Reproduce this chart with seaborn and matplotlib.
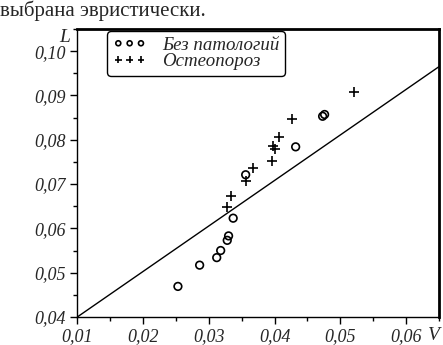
# Scatter of L vs V for two patient groups with a heuristic separating line
import matplotlib
matplotlib.use('Agg')
import matplotlib.pyplot as plt
import seaborn as sns
from matplotlib.ticker import MultipleLocator, FuncFormatter

# Data
normal_v = [0.0253, 0.0286, 0.0312, 0.0318, 0.0328, 0.0330, 0.0337, 0.0356, 0.0432, 0.0473, 0.0476]
normal_l = [0.0469, 0.0517, 0.0534, 0.0550, 0.0573, 0.0583, 0.0623, 0.0721, 0.0784, 0.0853, 0.0857]

osteo_v = [0.0328, 0.0334, 0.0356, 0.0367, 0.0396, 0.0398, 0.0401, 0.0406, 0.0427, 0.0521]
osteo_l = [0.0648, 0.0674, 0.0708, 0.0736, 0.0751, 0.0785, 0.0780, 0.0807, 0.0846, 0.0907]

line_v = [0.01, 0.065]
line_l = [0.04, 0.0965]

labels = ['Без патологий', 'Остеопороз']
x_ticks = [0.01, 0.02, 0.03, 0.04, 0.05, 0.06]
y_ticks = [0.04, 0.05, 0.06, 0.07, 0.08, 0.09, 0.10]

sns.set_style('ticks')
plt.rcParams['font.family'] = ['Liberation Serif', 'DejaVu Serif']

fig = plt.figure(figsize=(4.43, 3.45), dpi=100)
ax = fig.add_axes([0.1745, 0.0812, 0.8165, 0.8348])

# separating line
sns.lineplot(x=line_v, y=line_l, ax=ax, color='black', linewidth=1.0)

# groups
sns.scatterplot(x=normal_v, y=normal_l, ax=ax, marker='o', s=30,
                facecolors='none', edgecolor='black', linewidth=1.2, label=labels[0])
sns.scatterplot(x=osteo_v, y=osteo_l, ax=ax, marker='+', s=55,
                color='black', linewidth=1.2, label=labels[1])

ax.set_xlim(0.01, 0.065)
ax.set_ylim(0.04, 0.105)
ax.set_xticks(x_ticks)
ax.set_yticks(y_ticks)
ax.xaxis.set_minor_locator(MultipleLocator(0.005))
ax.yaxis.set_minor_locator(MultipleLocator(0.005))
fmt = FuncFormatter(lambda v, p: f"{v:.2f}".replace('.', ','))
ax.xaxis.set_major_formatter(fmt)
ax.yaxis.set_major_formatter(fmt)

ax.tick_params(which='major', direction='out', length=5, width=1, labelsize=13, pad=3, color='black')
ax.tick_params(which='minor', direction='out', length=3, width=1, color='black')
for lab in ax.get_xticklabels() + ax.get_yticklabels():
    lab.set_fontstyle('italic')

for side in ['left', 'bottom']:
    ax.spines[side].set_linewidth(1.0)
    ax.spines[side].set_color('black')
for side in ['right', 'top']:
    ax.spines[side].set_visible(True)
    ax.spines[side].set_linewidth(2.0)
    ax.spines[side].set_color('black')

ax.set_xlabel('')
ax.set_ylabel('')

# axis names
fig.text(65 / 443, 1 - 37 / 345, 'L', fontsize=14, fontstyle='italic', ha='center', va='center')
fig.text(434 / 443, 1 - 336 / 345, 'V', fontsize=14, fontstyle='italic', ha='center', va='center')

# preceding text line
fig.text(0.0, 1 - 16 / 345, 'выбрана эвристически.', fontsize=15, ha='left', va='baseline')

leg = ax.legend(loc='upper left', bbox_to_anchor=(0.082, 0.993), borderaxespad=0,
                scatterpoints=3, scatteryoffsets=[0.5], markerscale=0.65,
                fontsize=13.6, frameon=True, fancybox=True,
                handlelength=1.8, handletextpad=0.8, borderpad=0.3, labelspacing=-0.05,
                edgecolor='black', framealpha=1)
leg.get_frame().set_linewidth(1.0)
for t in leg.get_texts():
    t.set_fontstyle('italic')

fig.savefig('out.png', dpi=100)
